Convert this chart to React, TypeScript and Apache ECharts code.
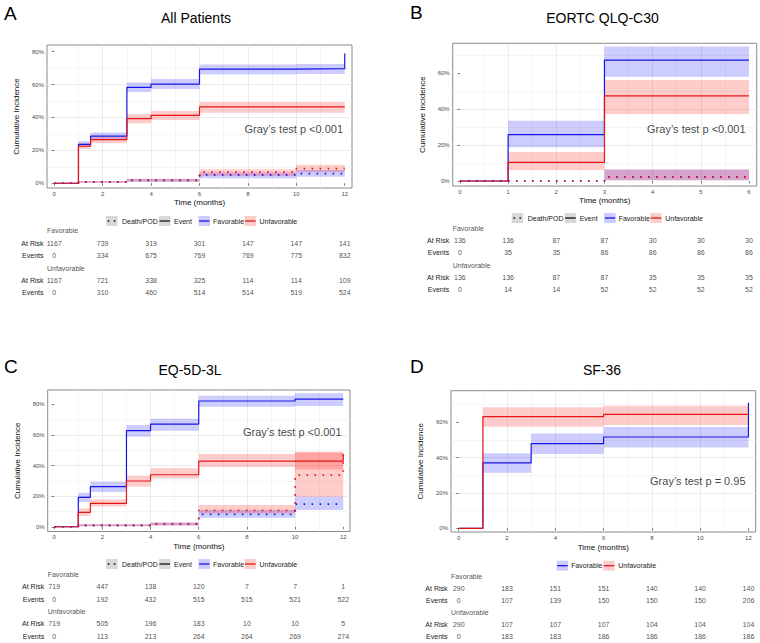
import React, { useEffect, useRef } from 'react';
import * as echarts from 'echarts';

// ---------------- Panel A: All Patients ----------------
const eventTimesA = [0, 1, 1.5, 3, 4, 6, 10, 12];
const favEventA = [0, 23.7, 28.7, 58.3, 60.3, 69.4, 69.7, 79.0];
const favEventLoA = [0, 22.3, 26.7, 55.5, 57.3, 66.2, 66.5];
const favEventHiA = [0, 25.6, 30.8, 61.3, 63.4, 72.3, 72.5];
const unfEventA = [0, 22.5, 26.5, 39.3, 41.3, 46.4, 46.4, 46.4];
const unfEventLoA = [0, 20.8, 24.3, 36.4, 38.5, 42.9, 42.9];
const unfEventHiA = [0, 24.3, 28.4, 42.1, 43.9, 49.4, 49.4];
const deathTimesA = [0, 1, 3, 6, 10, 12];
const favDeathA = [0, 0.8, 1.7, 5.1, 5.9, 5.9];
const favDeathLoA = [0, 0.3, 0.9, 3.0, 4.0];
const favDeathHiA = [0, 1.3, 2.6, 6.5, 8.1];
const unfDeathA = [0, 0.8, 1.8, 6.7, 8.9, 8.9];
const unfDeathLoA = [0, 0.3, 0.9, 4.4, 6.7];
const unfDeathHiA = [0, 1.3, 2.7, 8.5, 11.3];
const tableTimesA = [0, 2, 4, 6, 8, 10, 12];
const favAtRiskA = [1167, 739, 319, 301, 147, 147, 141];
const favEventsA = [0, 334, 675, 769, 769, 775, 832];
const unfAtRiskA = [1167, 721, 338, 325, 114, 114, 109];
const unfEventsA = [0, 310, 460, 514, 514, 519, 524];

// ---------------- Panel B: EORTC QLQ-C30 ----------------
const eventTimesB = [0, 1, 3, 6];
const favEventB = [0, 25.8, 67.4, 67.4];
const favEventLoB = [0, 18.8, 58.1];
const favEventHiB = [0, 33.6, 74.9];
const unfEventB = [0, 10.4, 47.4, 47.4];
const unfEventLoB = [0, 6.1, 37.3];
const unfEventHiB = [0, 16.2, 56.3];
const deathTimesB = [0, 1, 3, 6];
const favDeathB = [0, 0, 2.2, 2.2];
const favDeathLoB = [0, 0, 0.4];
const favDeathHiB = [0, 0, 6.4];
const unfDeathB = [0, 0, 2.2, 2.2];
const unfDeathLoB = [0, 0, 0.4];
const unfDeathHiB = [0, 0, 6.4];
const tableTimesB = [0, 1, 2, 3, 4, 5, 6];
const favAtRiskB = [136, 136, 87, 87, 30, 30, 30];
const favEventsB = [0, 35, 35, 86, 86, 86, 86];
const unfAtRiskB = [136, 136, 87, 87, 35, 35, 35];
const unfEventsB = [0, 14, 14, 52, 52, 52, 52];

// ---------------- Panel C: EQ-5D-3L ----------------
const eventTimesC = [0, 1, 1.5, 3, 4, 6, 10, 12];
const favEventC = [0, 19.2, 26.2, 62.8, 67.1, 82.2, 83.5, 83.5];
const favEventLoC = [0, 16.1, 22.7, 58.9, 62.8, 78.5, 78.9];
const favEventHiC = [0, 22.2, 29.4, 66.5, 70.6, 85.7, 87.2];
const unfEventC = [0, 9.4, 15.3, 29.9, 34.0, 42.9, 42.9, 47.0];
const unfEventLoC = [0, 7.0, 13.3, 26.2, 31.6, 39.0, 37.5];
const unfEventHiC = [0, 12.0, 17.9, 33.4, 38.2, 47.5, 49.0];
const deathTimesC = [0, 1, 4, 6, 10, 12];
const favDeathC = [0, 0.9, 1.7, 8.1, 14.8, 14.8];
const favDeathLoC = [0, 0.4, 0.8, 5.9, 10.9];
const favDeathHiC = [0, 1.6, 2.8, 10.9, 19.6];
const unfDeathC = [0, 0.9, 1.7, 10.7, 33.8, 51.0];
const unfDeathLoC = [0, 0.4, 0.8, 8.7, 19.6];
const unfDeathHiC = [0, 1.6, 2.8, 14.2, 48.5];
const tableTimesC = [0, 2, 4, 6, 8, 10, 12];
const favAtRiskC = [719, 447, 138, 120, 7, 7, 1];
const favEventsC = [0, 192, 432, 515, 515, 521, 522];
const unfAtRiskC = [719, 505, 196, 183, 10, 10, 5];
const unfEventsC = [0, 113, 213, 264, 264, 269, 274];

// ---------------- Panel D: SF-36 ----------------
const eventTimesD = [0, 1, 3, 6, 12];
const favEventD = [0, 37.0, 47.9, 51.7, 71.1];
const favEventLoD = [0, 31.5, 42.1, 45.8];
const favEventHiD = [0, 42.5, 53.6, 57.4];
const unfEventD = [0, 63.2, 63.2, 64.5, 64.5];
const unfEventLoD = [0, 57.5, 57.5, 58.5];
const unfEventHiD = [0, 68.5, 68.5, 69.4];
const tableTimesD = [0, 2, 4, 6, 8, 10, 12];
const favAtRiskD = [290, 183, 151, 151, 140, 140, 140];
const favEventsD = [0, 107, 139, 150, 150, 150, 206];
const unfAtRiskD = [290, 107, 107, 107, 104, 104, 104];
const unfEventsD = [0, 183, 183, 186, 186, 186, 186];

const ticks12 = [0, 2, 4, 6, 8, 10, 12];
const ticks6 = [0, 1, 2, 3, 4, 5, 6];
const groupNames = ['Favorable', 'Unfavorable'];
const rowKeys = ['favHead', 'favRisk', 'favEvents', 'unfHead', 'unfRisk', 'unfEvents'];
const rowLabels: Record<string, string> = {
  favHead: '', favRisk: 'At Risk', favEvents: 'Events',
  unfHead: '', unfRisk: 'At Risk', unfEvents: 'Events',
};

const FONT = '"Liberation Sans", Arial, Helvetica, sans-serif';
const BLUE = '#1616E6';
const RED = '#E61616';
const BLUE_FILL = 'rgba(0,0,255,0.2)';
const RED_FILL = 'rgba(255,0,0,0.2)';

const panels: any[] = [
  {
    letter: 'A', title: 'All Patients', letterPos: [4, 13], titlePos: [196, 18],
    grid: { left: 47, top: 45, width: 305, height: 143 },
    xRange: [-0.3, 12.3], yRange: [-2.9, 84.1], xTicks: ticks12, yTicks: [0, 20, 40, 60, 80], xNameGap: 10.5,
    eventTimes: eventTimesA,
    fav: { v: favEventA, lo: favEventLoA, hi: favEventHiA },
    unf: { v: unfEventA, lo: unfEventLoA, hi: unfEventHiA },
    deathTimes: deathTimesA,
    favD: { v: favDeathA, lo: favDeathLoA, hi: favDeathHiA },
    unfD: { v: unfDeathA, lo: unfDeathLoA, hi: unfDeathHiA },
    gray: { text: 'Gray\u2019s test p <0.001', x: 11.95, y: 33 },
    legend: { x: 106, y: 221, full: true },
    table: { top: 224.8, rowH: 12.35, times: tableTimesA, rows: [favAtRiskA, favEventsA, unfAtRiskA, unfEventsA] },
  },
  {
    letter: 'B', title: 'EORTC QLQ-C30', letterPos: [410, 12], titlePos: [602.5, 18],
    grid: { left: 452.7, top: 43.3, width: 304, height: 142.7 },
    xRange: [-0.15, 6.16], yRange: [-2.8, 76.75], xTicks: ticks6, yTicks: [0, 20, 40, 60], xNameGap: 10,
    eventTimes: eventTimesB,
    fav: { v: favEventB, lo: favEventLoB, hi: favEventHiB },
    unf: { v: unfEventB, lo: unfEventLoB, hi: unfEventHiB },
    deathTimes: deathTimesB,
    favD: { v: favDeathB, lo: favDeathLoB, hi: favDeathHiB },
    unfD: { v: unfDeathB, lo: unfDeathLoB, hi: unfDeathHiB },
    gray: { text: 'Gray\u2019s test p <0.001', x: 5.94, y: 29 },
    legend: { x: 511.7, y: 218, full: true },
    table: { top: 222.2, rowH: 12.3, times: tableTimesB, rows: [favAtRiskB, favEventsB, unfAtRiskB, unfEventsB] },
  },
  {
    letter: 'C', title: 'EQ-5D-3L', letterPos: [4, 366.5], titlePos: [190, 370],
    grid: { left: 47.7, top: 390, width: 302.3, height: 141.5 },
    xRange: [-0.27, 12.28], yRange: [-3.1, 89.4], xTicks: ticks12, yTicks: [0, 20, 40, 60, 80], xNameGap: 10.5,
    eventTimes: eventTimesC,
    fav: { v: favEventC, lo: favEventLoC, hi: favEventHiC },
    unf: { v: unfEventC, lo: unfEventLoC, hi: unfEventHiC },
    deathTimes: deathTimesC,
    favD: { v: favDeathC, lo: favDeathLoC, hi: favDeathHiC },
    unfD: { v: unfDeathC, lo: unfDeathLoC, hi: unfDeathHiC },
    gray: { text: 'Gray\u2019s test p <0.001', x: 11.95, y: 61.7 },
    legend: { x: 106, y: 564, full: true },
    table: { top: 568.2, rowH: 12.34, times: tableTimesC, rows: [favAtRiskC, favEventsC, unfAtRiskC, unfEventsC] },
  },
  {
    letter: 'D', title: 'SF-36', letterPos: [410, 366], titlePos: [602, 370],
    grid: { left: 451, top: 390.7, width: 304.7, height: 141.3 },
    xRange: [-0.32, 12.3], yRange: [-2.1, 77.9], xTicks: ticks12, yTicks: [0, 20, 40, 60], xNameGap: 11.5,
    eventTimes: eventTimesD,
    fav: { v: favEventD, lo: favEventLoD, hi: favEventHiD },
    unf: { v: unfEventD, lo: unfEventLoD, hi: unfEventHiD },
    deathTimes: null,
    gray: { text: 'Gray\u2019s test p = 0.95', x: 11.9, y: 26.9 },
    legend: { x: 556.7, y: 565.7, full: false },
    table: { top: 570.6, rowH: 12.2, times: tableTimesD, rows: [favAtRiskD, favEventsD, unfAtRiskD, unfEventsD] },
  },
];

function bandSeries(gi: number, times: number[], lo: number[], hi: number[], fill: string) {
  const data = lo
    .map((l, i) => [times[i], times[i + 1], l, hi[i]])
    .filter((d) => d[3] > d[2] && d[1] !== undefined);
  return {
    type: 'custom',
    xAxisIndex: gi,
    yAxisIndex: gi,
    z: 1,
    silent: true,
    encode: { x: [0, 1], y: [2, 3] },
    data,
    renderItem: (params: any, api: any) => {
      const p0 = api.coord([api.value(0), api.value(3)]);
      const p1 = api.coord([api.value(1), api.value(2)]);
      return {
        type: 'rect',
        shape: { x: p0[0], y: p0[1], width: p1[0] - p0[0], height: p1[1] - p0[1] },
        style: { fill },
      };
    },
  };
}

function stepSeries(gi: number, times: number[], vals: number[], color: string, dotted: boolean, z: number) {
  return {
    type: 'line',
    xAxisIndex: gi,
    yAxisIndex: gi,
    step: 'end',
    symbol: 'none',
    showSymbol: false,
    z,
    silent: true,
    data: times.map((t, i) => [t, vals[i]]),
    lineStyle: dotted
      ? { color, width: 1.7, type: [1.6, 6.4], cap: 'butt' }
      : { color, width: 1.2 },
  };
}

function legendGraphics(lg: any) {
  const els: any[] = [];
  const kw = 11.5;
  const kh = 10;
  const items = lg.full
    ? [
        { key: 0, text: 16, label: 'Death/POD', fill: '#d9d9d9', stroke: '#111', dash: true },
        { key: 53, text: 68, label: 'Event', fill: '#d9d9d9', stroke: '#111', dash: false },
        { key: 92.5, text: 107, label: groupNames[0], fill: '#ccccff', stroke: BLUE, dash: false },
        { key: 138.5, text: 153.5, label: groupNames[1], fill: '#ffcccc', stroke: RED, dash: false },
      ]
    : [
        { key: 0, text: 14.5, label: groupNames[0], fill: '#ccccff', stroke: BLUE, dash: false },
        { key: 46.6, text: 61.6, label: groupNames[1], fill: '#ffcccc', stroke: RED, dash: false },
      ];
  items.forEach((it) => {
    const x = lg.x + it.key;
    els.push({ type: 'rect', shape: { x, y: lg.y - kh / 2, width: kw, height: kh }, style: { fill: it.fill }, silent: true });
    els.push({
      type: 'line',
      shape: { x1: it.dash ? x + 1.8 : x + 0.5, y1: lg.y, x2: x + kw - 0.5, y2: lg.y },
      style: it.dash
        ? { stroke: it.stroke, lineWidth: 1.7, lineDash: [1.6, 4.4] }
        : { stroke: it.stroke, lineWidth: 1.3 },
      silent: true,
    });
    els.push({
      type: 'text',
      x: lg.x + it.text,
      y: lg.y,
      style: {
        text: it.label, fontSize: 7, fontFamily: FONT, fill: '#1a1a1a',
        align: 'left', verticalAlign: 'middle', textAlign: 'left', textVerticalAlign: 'middle',
      },
      silent: true,
    });
  });
  return els;
}

function buildOption() {
  const grid: any[] = [];
  const xAxis: any[] = [];
  const yAxis: any[] = [];
  const series: any[] = [];
  const graphic: any[] = [];

  panels.forEach((p, pi) => {
    const gi = pi * 2;
    const ti = pi * 2 + 1;
    grid.push({
      left: p.grid.left, top: p.grid.top, width: p.grid.width, height: p.grid.height,
      show: true, borderColor: '#8a8a8a', borderWidth: 1, backgroundColor: '#ffffff',
    });
    grid.push({ left: p.grid.left, top: p.table.top, width: p.grid.width, height: p.table.rowH * 6 });

    const axisLabelBase = { fontSize: 6, color: '#4d4d4d', fontFamily: FONT };
    xAxis.push({
      gridIndex: gi, type: 'value', min: p.xRange[0], max: p.xRange[1], splitNumber: 6,
      name: 'Time (months)', nameLocation: 'middle', nameGap: p.xNameGap,
      nameTextStyle: { fontSize: 8, color: '#111', fontFamily: FONT },
      axisLine: { show: false },
      axisTick: { show: true, length: 2.5, lineStyle: { color: '#444', width: 0.7 }, customValues: p.xTicks },
      axisLabel: { ...axisLabelBase, margin: 2.5, customValues: p.xTicks },
      splitLine: { show: true, showMinLine: false, showMaxLine: false, lineStyle: { color: '#e6e6e6', width: 0.8 } },
      minorTick: { show: false, splitNumber: 2 },
      minorSplitLine: { show: true, lineStyle: { color: '#efefef', width: 0.6 } },
    });
    yAxis.push({
      gridIndex: gi, type: 'value', min: p.yRange[0], max: p.yRange[1], splitNumber: 5,
      name: 'Cumulative Incidence', nameLocation: 'middle', nameGap: 26.5,
      nameTextStyle: { fontSize: 8, color: '#111', fontFamily: FONT },
      axisLine: { show: false },
      axisTick: { show: true, length: 2.5, lineStyle: { color: '#444', width: 0.7 }, customValues: p.yTicks },
      axisLabel: {
        ...axisLabelBase, margin: 3, customValues: p.yTicks,
        formatter: (v: number) => v + '%',
      },
      splitLine: { show: true, showMinLine: false, showMaxLine: false, lineStyle: { color: '#e6e6e6', width: 0.8 } },
      minorTick: { show: false, splitNumber: 2 },
      minorSplitLine: { show: true, lineStyle: { color: '#efefef', width: 0.6 } },
    });

    xAxis.push({ gridIndex: ti, type: 'value', min: p.xRange[0], max: p.xRange[1], show: false });
    yAxis.push({
      gridIndex: ti, type: 'category', data: rowKeys, inverse: true,
      axisLine: { show: false }, axisTick: { show: false }, splitLine: { show: false },
      axisLabel: {
        fontSize: 7, color: '#1a1a1a', fontFamily: FONT, margin: 3.5, interval: 0,
        formatter: (v: string) => rowLabels[v],
      },
    });

    // confidence bands
    series.push(bandSeries(gi, p.eventTimes, p.fav.lo, p.fav.hi, BLUE_FILL));
    series.push(bandSeries(gi, p.eventTimes, p.unf.lo, p.unf.hi, RED_FILL));
    if (p.deathTimes) {
      series.push(bandSeries(gi, p.deathTimes, p.favD.lo, p.favD.hi, BLUE_FILL));
      series.push(bandSeries(gi, p.deathTimes, p.unfD.lo, p.unfD.hi, RED_FILL));
      series.push(stepSeries(gi, p.deathTimes, p.favD.v, BLUE, true, 3));
      series.push(stepSeries(gi, p.deathTimes, p.unfD.v, RED, true, 3));
    }
    series.push(stepSeries(gi, p.eventTimes, p.fav.v, BLUE, false, 4));
    series.push(stepSeries(gi, p.eventTimes, p.unf.v, RED, false, 4));

    // Gray's test annotation
    series.push({
      type: 'scatter', xAxisIndex: gi, yAxisIndex: gi, symbolSize: 1, z: 6, silent: true,
      itemStyle: { color: 'transparent' },
      data: [{ value: [p.gray.x, p.gray.y], name: p.gray.text }],
      label: { show: true, formatter: '{b}', position: 'left', distance: 0, fontSize: 11, color: '#111', fontFamily: FONT },
    });

    // risk table: group headers (left-aligned at panel's left edge)
    series.push({
      type: 'scatter', xAxisIndex: ti, yAxisIndex: ti, symbolSize: 1, silent: true, clip: false,
      itemStyle: { color: 'transparent' },
      data: [
        { value: [p.xRange[0], 0], name: groupNames[0] },
        { value: [p.xRange[0], 3], name: groupNames[1] },
      ],
      label: {
        show: true, formatter: '{b}', position: 'inside', align: 'left', verticalAlign: 'middle',
        fontSize: 7, color: '#1a1a1a', fontFamily: FONT,
      },
    });
    // risk table: numbers
    const tdata: any[] = [];
    const rowIdx = [1, 2, 4, 5];
    p.table.rows.forEach((row: number[], ri: number) => {
      row.forEach((val, ci) => {
        tdata.push({ value: [p.table.times[ci], rowIdx[ri]], name: String(val) });
      });
    });
    series.push({
      type: 'scatter', xAxisIndex: ti, yAxisIndex: ti, symbolSize: 1, silent: true,
      itemStyle: { color: 'transparent' },
      data: tdata,
      label: { show: true, formatter: '{b}', position: 'inside', fontSize: 7, color: '#1a1a1a', fontFamily: FONT },
    });

    // letters and titles
    graphic.push({
      type: 'text', x: p.letterPos[0], y: p.letterPos[1], silent: true,
      style: { text: p.letter, fontSize: 19, fontFamily: FONT, fill: '#000', align: 'left', verticalAlign: 'middle', textAlign: 'left', textVerticalAlign: 'middle' },
    });
    graphic.push({
      type: 'text', x: p.titlePos[0], y: p.titlePos[1], silent: true,
      style: { text: p.title, fontSize: 14, fontFamily: FONT, fill: '#000', align: 'center', verticalAlign: 'middle', textAlign: 'center', textVerticalAlign: 'middle' },
    });
    legendGraphics(p.legend).forEach((e) => graphic.push(e));
  });

  return {
    animation: false,
    backgroundColor: '#ffffff',
    textStyle: { fontFamily: FONT },
    grid, xAxis, yAxis, series, graphic,
  };
}

export default function App() {
  const ref = useRef<HTMLDivElement>(null);
  useEffect(() => {
    if (!ref.current) return;
    const chart = echarts.init(ref.current, undefined, { renderer: 'svg' });
    chart.setOption(buildOption() as any);
    return () => chart.dispose();
  }, []);
  return (
    <div
      ref={ref}
      style={{ position: 'absolute', left: 0, top: 0, width: 760, height: 643, background: '#fff' }}
    />
  );
}
